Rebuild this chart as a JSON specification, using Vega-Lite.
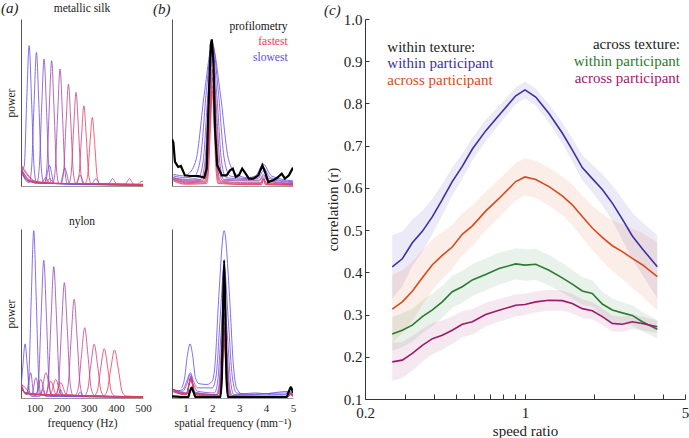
{
"$schema": "https://vega.github.io/schema/vega-lite/v6.json",
"background": "white",
"padding": {"left": 1, "top": 1, "right": 0, "bottom": 0},
"config": {
  "font": "Liberation Serif, DejaVu Serif, Times New Roman, serif",
  "view": {"stroke": null},
  "axis": {"grid": false, "labelFlush": false, "labelOverlap": false, "labelFont": "Liberation Serif, DejaVu Serif, Times New Roman, serif", "titleFont": "Liberation Serif, DejaVu Serif, Times New Roman, serif", "titleFontWeight": "normal", "labelColor": "#222", "titleColor": "#222"},
  "title": {"font": "Liberation Serif, DejaVu Serif, Times New Roman, serif", "fontWeight": "normal", "color": "#222"},
  "text": {"font": "Liberation Serif, DejaVu Serif, Times New Roman, serif"}
},
"datasets": {
"aT": [
{"s":1,"x":50,"y":0.09},{"s":1,"x":62,"y":0.12},{"s":1,"x":71,"y":0.51},{"s":1,"x":80,"y":0.84},{"s":1,"x":89,"y":0.51},{"s":1,"x":98,"y":0.12},{"s":1,"x":107,"y":0.02},{"s":1,"x":139,"y":0.015},{"s":1,"x":147,"y":0.075},{"s":1,"x":155,"y":0.124},{"s":1,"x":163,"y":0.075},{"s":1,"x":171,"y":0.015},{"s":1,"x":300,"y":0.008},{"s":1,"x":500,"y":0.005},
{"s":2,"x":50,"y":0.11},{"s":2,"x":65,"y":0.04},{"s":2,"x":80,"y":0.02},{"s":2,"x":89,"y":0.108},{"s":2,"x":98,"y":0.486},{"s":2,"x":107,"y":0.8},{"s":2,"x":116,"y":0.486},{"s":2,"x":125,"y":0.108},{"s":2,"x":134,"y":0.015},{"s":2,"x":196,"y":0.015},{"s":2,"x":204,"y":0.065},{"s":2,"x":212,"y":0.108},{"s":2,"x":220,"y":0.065},{"s":2,"x":228,"y":0.015},{"s":2,"x":500,"y":0.005},
{"s":3,"x":50,"y":0.08},{"s":3,"x":70,"y":0.04},{"s":3,"x":95,"y":0.02},{"s":3,"x":108,"y":0.015},{"s":3,"x":117,"y":0.103},{"s":3,"x":126,"y":0.461},{"s":3,"x":135,"y":0.76},{"s":3,"x":144,"y":0.461},{"s":3,"x":153,"y":0.103},{"s":3,"x":162,"y":0.015},{"s":3,"x":252,"y":0.01},{"s":3,"x":260,"y":0.04},{"s":3,"x":268,"y":0.065},{"s":3,"x":276,"y":0.04},{"s":3,"x":284,"y":0.01},{"s":3,"x":500,"y":0.005},
{"s":4,"x":50,"y":0.09},{"s":4,"x":75,"y":0.03},{"s":4,"x":136,"y":0.015},{"s":4,"x":145,"y":0.101},{"s":4,"x":154,"y":0.455},{"s":4,"x":163,"y":0.75},{"s":4,"x":172,"y":0.455},{"s":4,"x":181,"y":0.101},{"s":4,"x":190,"y":0.015},{"s":4,"x":310,"y":0.01},{"s":4,"x":318,"y":0.027},{"s":4,"x":326,"y":0.045},{"s":4,"x":334,"y":0.027},{"s":4,"x":342,"y":0.01},{"s":4,"x":500,"y":0.005},
{"s":5,"x":50,"y":0.1},{"s":5,"x":80,"y":0.03},{"s":5,"x":167,"y":0.015},{"s":5,"x":176,"y":0.095},{"s":5,"x":185,"y":0.425},{"s":5,"x":194,"y":0.7},{"s":5,"x":203,"y":0.425},{"s":5,"x":212,"y":0.095},{"s":5,"x":221,"y":0.015},{"s":5,"x":372,"y":0.01},{"s":5,"x":380,"y":0.027},{"s":5,"x":388,"y":0.045},{"s":5,"x":396,"y":0.027},{"s":5,"x":404,"y":0.01},{"s":5,"x":500,"y":0.005},
{"s":6,"x":50,"y":0.11},{"s":6,"x":85,"y":0.03},{"s":6,"x":198,"y":0.015},{"s":6,"x":207,"y":0.082},{"s":6,"x":216,"y":0.37},{"s":6,"x":225,"y":0.61},{"s":6,"x":234,"y":0.37},{"s":6,"x":243,"y":0.082},{"s":6,"x":252,"y":0.015},{"s":6,"x":434,"y":0.01},{"s":6,"x":442,"y":0.027},{"s":6,"x":450,"y":0.045},{"s":6,"x":458,"y":0.027},{"s":6,"x":466,"y":0.01},{"s":6,"x":500,"y":0.005},
{"s":7,"x":50,"y":0.1},{"s":7,"x":90,"y":0.03},{"s":7,"x":226,"y":0.015},{"s":7,"x":235,"y":0.076},{"s":7,"x":244,"y":0.34},{"s":7,"x":253,"y":0.56},{"s":7,"x":262,"y":0.34},{"s":7,"x":271,"y":0.076},{"s":7,"x":280,"y":0.015},{"s":7,"x":480,"y":0.01},{"s":7,"x":492,"y":0.025},{"s":7,"x":500,"y":0.03},
{"s":8,"x":50,"y":0.12},{"s":8,"x":95,"y":0.03},{"s":8,"x":125,"y":0.015},{"s":8,"x":141,"y":0.05},{"s":8,"x":157,"y":0.015},{"s":8,"x":255,"y":0.015},{"s":8,"x":264,"y":0.065},{"s":8,"x":273,"y":0.291},{"s":8,"x":282,"y":0.48},{"s":8,"x":291,"y":0.291},{"s":8,"x":300,"y":0.065},{"s":8,"x":309,"y":0.015},{"s":8,"x":500,"y":0.01},
{"s":9,"x":50,"y":0.13},{"s":9,"x":100,"y":0.03},{"s":9,"x":140,"y":0.015},{"s":9,"x":156,"y":0.045},{"s":9,"x":172,"y":0.015},{"s":9,"x":286,"y":0.015},{"s":9,"x":295,"y":0.055},{"s":9,"x":304,"y":0.249},{"s":9,"x":313,"y":0.41},{"s":9,"x":322,"y":0.249},{"s":9,"x":331,"y":0.055},{"s":9,"x":340,"y":0.015},{"s":9,"x":500,"y":0.01}
],
"aB": [
{"s":1,"x":50,"y":0.06},{"s":1,"x":57,"y":0.194},{"s":1,"x":65,"y":0.32},{"s":1,"x":73,"y":0.194},{"s":1,"x":81,"y":0.043},{"s":1,"x":89,"y":0.01},{"s":1,"x":120,"y":0.01},{"s":1,"x":130,"y":0.05},{"s":1,"x":140,"y":0.01},{"s":1,"x":500,"y":0.005},
{"s":2,"x":50,"y":0.07},{"s":2,"x":70,"y":0.02},{"s":2,"x":79,"y":0.134},{"s":2,"x":88,"y":0.601},{"s":2,"x":97,"y":0.99},{"s":2,"x":106,"y":0.601},{"s":2,"x":115,"y":0.134},{"s":2,"x":124,"y":0.02},{"s":2,"x":185,"y":0.01},{"s":2,"x":196,"y":0.05},{"s":2,"x":207,"y":0.01},{"s":2,"x":500,"y":0.005},
{"s":3,"x":50,"y":0.08},{"s":3,"x":67,"y":0.06},{"s":3,"x":85,"y":0.02},{"s":3,"x":105.5,"y":0.015},{"s":3,"x":115,"y":0.11},{"s":3,"x":124.5,"y":0.495},{"s":3,"x":134,"y":0.815},{"s":3,"x":143.5,"y":0.495},{"s":3,"x":153,"y":0.11},{"s":3,"x":162.5,"y":0.015},{"s":3,"x":258,"y":0.01},{"s":3,"x":268,"y":0.037},{"s":3,"x":278,"y":0.01},{"s":3,"x":500,"y":0.005},
{"s":4,"x":50,"y":0.07},{"s":4,"x":73,"y":0.02},{"s":4,"x":85.5,"y":0.15},{"s":4,"x":98,"y":0.02},{"s":4,"x":141,"y":0.015},{"s":4,"x":151,"y":0.105},{"s":4,"x":161,"y":0.472},{"s":4,"x":171,"y":0.777},{"s":4,"x":181,"y":0.472},{"s":4,"x":191,"y":0.105},{"s":4,"x":201,"y":0.015},{"s":4,"x":500,"y":0.005},
{"s":5,"x":50,"y":0.06},{"s":5,"x":65,"y":0.03},{"s":5,"x":90,"y":0.02},{"s":5,"x":105,"y":0.12},{"s":5,"x":120,"y":0.02},{"s":5,"x":178.5,"y":0.015},{"s":5,"x":189,"y":0.092},{"s":5,"x":199.5,"y":0.414},{"s":5,"x":210,"y":0.682},{"s":5,"x":220.5,"y":0.414},{"s":5,"x":231,"y":0.092},{"s":5,"x":241.5,"y":0.015},{"s":5,"x":500,"y":0.005},
{"s":6,"x":50,"y":0.07},{"s":6,"x":65,"y":0.03},{"s":6,"x":105,"y":0.02},{"s":6,"x":123,"y":0.11},{"s":6,"x":141,"y":0.02},{"s":6,"x":213,"y":0.015},{"s":6,"x":224,"y":0.079},{"s":6,"x":235,"y":0.354},{"s":6,"x":246,"y":0.584},{"s":6,"x":257,"y":0.354},{"s":6,"x":268,"y":0.079},{"s":6,"x":279,"y":0.015},{"s":6,"x":500,"y":0.005},
{"s":7,"x":50,"y":0.08},{"s":7,"x":65,"y":0.03},{"s":7,"x":122,"y":0.02},{"s":7,"x":142,"y":0.15},{"s":7,"x":162,"y":0.02},{"s":7,"x":249,"y":0.015},{"s":7,"x":261,"y":0.056},{"s":7,"x":273,"y":0.252},{"s":7,"x":285,"y":0.416},{"s":7,"x":297,"y":0.252},{"s":7,"x":309,"y":0.056},{"s":7,"x":321,"y":0.015},{"s":7,"x":500,"y":0.005},
{"s":8,"x":50,"y":0.09},{"s":8,"x":65,"y":0.03},{"s":8,"x":140,"y":0.02},{"s":8,"x":160,"y":0.1},{"s":8,"x":180,"y":0.02},{"s":8,"x":282.5,"y":0.012},{"s":8,"x":295,"y":0.043},{"s":8,"x":307.5,"y":0.193},{"s":8,"x":320,"y":0.318},{"s":8,"x":332.5,"y":0.193},{"s":8,"x":345,"y":0.043},{"s":8,"x":357.5,"y":0.012},{"s":8,"x":500,"y":0.005},
{"s":9,"x":50,"y":0.08},{"s":9,"x":65,"y":0.03},{"s":9,"x":158,"y":0.02},{"s":9,"x":178,"y":0.11},{"s":9,"x":198,"y":0.02},{"s":9,"x":318,"y":0.012},{"s":9,"x":331,"y":0.039},{"s":9,"x":344,"y":0.177},{"s":9,"x":357,"y":0.292},{"s":9,"x":370,"y":0.177},{"s":9,"x":383,"y":0.039},{"s":9,"x":396,"y":0.012},{"s":9,"x":500,"y":0.005},
{"s":10,"x":50,"y":0.1},{"s":10,"x":65,"y":0.03},{"s":10,"x":177,"y":0.02},{"s":10,"x":197,"y":0.09},{"s":10,"x":217,"y":0.02},{"s":10,"x":353,"y":0.012},{"s":10,"x":367,"y":0.038},{"s":10,"x":381,"y":0.172},{"s":10,"x":395,"y":0.284},{"s":10,"x":409,"y":0.172},{"s":10,"x":423,"y":0.038},{"s":10,"x":437,"y":0.012},{"s":10,"x":500,"y":0.008}
],
"bT": [
{"s":1,"x":0.55,"y":0.07},{"s":1,"x":1.0,"y":0.06},{"s":1,"x":1.1,"y":0.07},{"s":1,"x":1.4,"y":0.16},{"s":1,"x":1.7,"y":0.55},{"s":1,"x":2.0,"y":0.84},{"s":1,"x":2.3,"y":0.55},{"s":1,"x":2.6,"y":0.16},{"s":1,"x":2.9,"y":0.07},{"s":1,"x":3.3,"y":0.05},{"s":1,"x":3.6,"y":0.06},{"s":1,"x":3.9,"y":0.13},{"s":1,"x":4.2,"y":0.06},{"s":1,"x":5,"y":0.03},
{"s":2,"x":0.55,"y":0.06},{"s":2,"x":1.0,"y":0.05},{"s":2,"x":1.34,"y":0.06},{"s":2,"x":1.56,"y":0.166},{"s":2,"x":1.78,"y":0.57},{"s":2,"x":2.0,"y":0.86},{"s":2,"x":2.22,"y":0.57},{"s":2,"x":2.44,"y":0.166},{"s":2,"x":2.66,"y":0.06},{"s":2,"x":3.3,"y":0.045},{"s":2,"x":3.65,"y":0.05},{"s":2,"x":3.9,"y":0.11},{"s":2,"x":4.15,"y":0.05},{"s":2,"x":5,"y":0.025},
{"s":3,"x":0.55,"y":0.05},{"s":3,"x":1.0,"y":0.04},{"s":3,"x":1.49,"y":0.05},{"s":3,"x":1.66,"y":0.15},{"s":3,"x":1.83,"y":0.54},{"s":3,"x":2.0,"y":0.84},{"s":3,"x":2.17,"y":0.54},{"s":3,"x":2.34,"y":0.15},{"s":3,"x":2.51,"y":0.05},{"s":3,"x":3.3,"y":0.04},{"s":3,"x":3.7,"y":0.045},{"s":3,"x":3.9,"y":0.09},{"s":3,"x":4.1,"y":0.045},{"s":3,"x":5,"y":0.02},
{"s":4,"x":0.55,"y":0.05},{"s":4,"x":1.0,"y":0.035},{"s":4,"x":1.58,"y":0.04},{"s":4,"x":1.72,"y":0.14},{"s":4,"x":1.86,"y":0.5},{"s":4,"x":2.0,"y":0.8},{"s":4,"x":2.14,"y":0.5},{"s":4,"x":2.28,"y":0.14},{"s":4,"x":2.42,"y":0.04},{"s":4,"x":3.3,"y":0.035},{"s":4,"x":3.75,"y":0.035},{"s":4,"x":3.9,"y":0.07},{"s":4,"x":4.05,"y":0.035},{"s":4,"x":5,"y":0.015},
{"s":5,"x":0.55,"y":0.045},{"s":5,"x":1.0,"y":0.03},{"s":5,"x":1.64,"y":0.035},{"s":5,"x":1.76,"y":0.13},{"s":5,"x":1.88,"y":0.47},{"s":5,"x":2.0,"y":0.76},{"s":5,"x":2.12,"y":0.47},{"s":5,"x":2.24,"y":0.13},{"s":5,"x":2.36,"y":0.035},{"s":5,"x":3.3,"y":0.03},{"s":5,"x":3.75,"y":0.03},{"s":5,"x":3.9,"y":0.06},{"s":5,"x":4.05,"y":0.03},{"s":5,"x":5,"y":0.012},
{"s":6,"x":0.55,"y":0.04},{"s":6,"x":1.0,"y":0.025},{"s":6,"x":1.7,"y":0.03},{"s":6,"x":1.8,"y":0.12},{"s":6,"x":1.9,"y":0.43},{"s":6,"x":2.0,"y":0.7},{"s":6,"x":2.1,"y":0.43},{"s":6,"x":2.2,"y":0.12},{"s":6,"x":2.3,"y":0.03},{"s":6,"x":3.3,"y":0.02},{"s":6,"x":3.8,"y":0.02},{"s":6,"x":3.9,"y":0.05},{"s":6,"x":4.0,"y":0.02},{"s":6,"x":5,"y":0.01},
{"s":7,"x":0.55,"y":0.04},{"s":7,"x":1.0,"y":0.02},{"s":7,"x":1.73,"y":0.025},{"s":7,"x":1.82,"y":0.11},{"s":7,"x":1.91,"y":0.4},{"s":7,"x":2.0,"y":0.65},{"s":7,"x":2.09,"y":0.4},{"s":7,"x":2.18,"y":0.11},{"s":7,"x":2.27,"y":0.025},{"s":7,"x":3.3,"y":0.015},{"s":7,"x":3.8,"y":0.015},{"s":7,"x":3.9,"y":0.045},{"s":7,"x":4.0,"y":0.015},{"s":7,"x":5,"y":0.008},
{"s":8,"x":0.55,"y":0.035},{"s":8,"x":1.0,"y":0.015},{"s":8,"x":1.76,"y":0.02},{"s":8,"x":1.84,"y":0.1},{"s":8,"x":1.92,"y":0.37},{"s":8,"x":2.0,"y":0.6},{"s":8,"x":2.08,"y":0.37},{"s":8,"x":2.16,"y":0.1},{"s":8,"x":2.24,"y":0.02},{"s":8,"x":3.3,"y":0.01},{"s":8,"x":3.82,"y":0.01},{"s":8,"x":3.9,"y":0.04},{"s":8,"x":3.98,"y":0.01},{"s":8,"x":5,"y":0.005},
{"s":9,"x":0.55,"y":0.03},{"s":9,"x":1.0,"y":0.01},{"s":9,"x":1.79,"y":0.015},{"s":9,"x":1.86,"y":0.09},{"s":9,"x":1.93,"y":0.35},{"s":9,"x":2.0,"y":0.57},{"s":9,"x":2.07,"y":0.35},{"s":9,"x":2.14,"y":0.09},{"s":9,"x":2.21,"y":0.015},{"s":9,"x":3.3,"y":0.008},{"s":9,"x":3.83,"y":0.008},{"s":9,"x":3.9,"y":0.04},{"s":9,"x":3.97,"y":0.008},{"s":9,"x":5,"y":0.005}
],
"bTk": [
{"x":0.5,"y":0.28},{"x":0.55,"y":0.26},{"x":0.61,"y":0.144},{"x":0.73,"y":0.114},{"x":0.83,"y":0.12},{"x":0.98,"y":0.064},{"x":1.17,"y":0.06},{"x":1.48,"y":0.06},{"x":1.7,"y":0.05},{"x":1.79,"y":0.104},{"x":1.85,"y":0.443},{"x":1.94,"y":0.843},{"x":1.98,"y":0.878},{"x":2.04,"y":0.743},{"x":2.1,"y":0.343},{"x":2.18,"y":0.124},{"x":2.35,"y":0.064},{"x":2.53,"y":0.064},{"x":2.66,"y":0.094},{"x":2.76,"y":0.104},{"x":2.87,"y":0.054},{"x":2.99,"y":0.064},{"x":3.11,"y":0.104},{"x":3.24,"y":0.074},{"x":3.36,"y":0.044},{"x":3.52,"y":0.044},{"x":3.71,"y":0.064},{"x":3.86,"y":0.124},{"x":3.96,"y":0.084},{"x":4.08,"y":0.024},{"x":4.27,"y":0.034},{"x":4.45,"y":0.054},{"x":4.58,"y":0.074},{"x":4.7,"y":0.044},{"x":4.85,"y":0.064},{"x":5.0,"y":0.11}
],
"bTt": [
{"t":"profilometry","x":4.8,"y":0.932,"s":0},
{"t":"fastest","x":4.8,"y":0.843,"s":9},
{"t":"slowest","x":4.8,"y":0.749,"s":1}
],
"bB": [
{"s":1,"x":0.86,"y":0.06},{"s":1,"x":0.97,"y":0.12},{"s":1,"x":1.07,"y":0.25},{"s":1,"x":1.17,"y":0.32},{"s":1,"x":1.27,"y":0.25},{"s":1,"x":1.37,"y":0.12},{"s":1,"x":1.5,"y":0.085},{"s":1,"x":1.8,"y":0.08},{"s":1,"x":2.0,"y":0.1},{"s":1,"x":2.1,"y":0.2},{"s":1,"x":2.24,"y":0.6},{"s":1,"x":2.44,"y":0.99},{"s":1,"x":2.64,"y":0.6},{"s":1,"x":2.78,"y":0.2},{"s":1,"x":2.9,"y":0.06},{"s":1,"x":3.1,"y":0.025},{"s":1,"x":3.6,"y":0.03},{"s":1,"x":4.2,"y":0.02},{"s":1,"x":4.7,"y":0.02},{"s":1,"x":4.9,"y":0.05},{"s":1,"x":5.0,"y":0.03},
{"s":2,"x":0.6,"y":0.04},{"s":2,"x":0.9,"y":0.05},{"s":2,"x":1.05,"y":0.1},{"s":2,"x":1.18,"y":0.15},{"s":2,"x":1.3,"y":0.1},{"s":2,"x":1.45,"y":0.06},{"s":2,"x":2.0,"y":0.06},{"s":2,"x":2.14,"y":0.13},{"s":2,"x":2.29,"y":0.47},{"s":2,"x":2.44,"y":0.78},{"s":2,"x":2.59,"y":0.47},{"s":2,"x":2.74,"y":0.13},{"s":2,"x":2.9,"y":0.03},{"s":2,"x":3.6,"y":0.02},{"s":2,"x":4.9,"y":0.04},{"s":2,"x":5,"y":0.02},
{"s":3,"x":0.55,"y":0.05},{"s":3,"x":0.9,"y":0.04},{"s":3,"x":1.05,"y":0.08},{"s":3,"x":1.18,"y":0.14},{"s":3,"x":1.3,"y":0.08},{"s":3,"x":1.45,"y":0.04},{"s":3,"x":2.08,"y":0.03},{"s":3,"x":2.2,"y":0.1},{"s":3,"x":2.32,"y":0.37},{"s":3,"x":2.44,"y":0.6},{"s":3,"x":2.56,"y":0.37},{"s":3,"x":2.68,"y":0.1},{"s":3,"x":2.8,"y":0.02},{"s":3,"x":4.9,"y":0.03},{"s":3,"x":5,"y":0.02},
{"s":4,"x":0.55,"y":0.05},{"s":4,"x":1.0,"y":0.03},{"s":4,"x":1.06,"y":0.035},{"s":4,"x":1.13,"y":0.085},{"s":4,"x":1.2,"y":0.13},{"s":4,"x":1.27,"y":0.085},{"s":4,"x":1.34,"y":0.035},{"s":4,"x":2.14,"y":0.02},{"s":4,"x":2.24,"y":0.068},{"s":4,"x":2.34,"y":0.3},{"s":4,"x":2.44,"y":0.5},{"s":4,"x":2.54,"y":0.3},{"s":4,"x":2.64,"y":0.068},{"s":4,"x":2.74,"y":0.015},{"s":4,"x":4.8,"y":0.01},{"s":4,"x":4.9,"y":0.03},{"s":4,"x":5,"y":0.015},
{"s":5,"x":0.55,"y":0.05},{"s":5,"x":1.0,"y":0.03},{"s":5,"x":1.06,"y":0.03},{"s":5,"x":1.13,"y":0.08},{"s":5,"x":1.2,"y":0.12},{"s":5,"x":1.27,"y":0.08},{"s":5,"x":1.34,"y":0.03},{"s":5,"x":2.17,"y":0.02},{"s":5,"x":2.26,"y":0.061},{"s":5,"x":2.35,"y":0.273},{"s":5,"x":2.44,"y":0.45},{"s":5,"x":2.53,"y":0.273},{"s":5,"x":2.62,"y":0.061},{"s":5,"x":2.71,"y":0.012},{"s":5,"x":4.8,"y":0.01},{"s":5,"x":4.9,"y":0.03},{"s":5,"x":5,"y":0.015},
{"s":6,"x":0.55,"y":0.045},{"s":6,"x":1.0,"y":0.025},{"s":6,"x":1.06,"y":0.03},{"s":6,"x":1.13,"y":0.08},{"s":6,"x":1.2,"y":0.12},{"s":6,"x":1.27,"y":0.08},{"s":6,"x":1.34,"y":0.025},{"s":6,"x":2.2,"y":0.02},{"s":6,"x":2.28,"y":0.057},{"s":6,"x":2.36,"y":0.255},{"s":6,"x":2.44,"y":0.42},{"s":6,"x":2.52,"y":0.255},{"s":6,"x":2.6,"y":0.057},{"s":6,"x":2.68,"y":0.01},{"s":6,"x":4.8,"y":0.008},{"s":6,"x":4.9,"y":0.025},{"s":6,"x":5,"y":0.012},
{"s":7,"x":0.55,"y":0.045},{"s":7,"x":1.0,"y":0.025},{"s":7,"x":1.06,"y":0.025},{"s":7,"x":1.13,"y":0.075},{"s":7,"x":1.2,"y":0.11},{"s":7,"x":1.27,"y":0.075},{"s":7,"x":1.34,"y":0.025},{"s":7,"x":2.23,"y":0.015},{"s":7,"x":2.3,"y":0.054},{"s":7,"x":2.37,"y":0.243},{"s":7,"x":2.44,"y":0.4},{"s":7,"x":2.51,"y":0.243},{"s":7,"x":2.58,"y":0.054},{"s":7,"x":2.65,"y":0.008},{"s":7,"x":4.8,"y":0.008},{"s":7,"x":4.9,"y":0.025},{"s":7,"x":5,"y":0.012},
{"s":8,"x":0.55,"y":0.04},{"s":8,"x":1.0,"y":0.02},{"s":8,"x":1.06,"y":0.025},{"s":8,"x":1.13,"y":0.075},{"s":8,"x":1.2,"y":0.11},{"s":8,"x":1.27,"y":0.075},{"s":8,"x":1.34,"y":0.02},{"s":8,"x":2.245,"y":0.012},{"s":8,"x":2.31,"y":0.051},{"s":8,"x":2.375,"y":0.231},{"s":8,"x":2.44,"y":0.38},{"s":8,"x":2.505,"y":0.231},{"s":8,"x":2.57,"y":0.051},{"s":8,"x":2.635,"y":0.006},{"s":8,"x":4.8,"y":0.006},{"s":8,"x":4.9,"y":0.02},{"s":8,"x":5,"y":0.01},
{"s":9,"x":0.55,"y":0.04},{"s":9,"x":1.0,"y":0.02},{"s":9,"x":1.06,"y":0.025},{"s":9,"x":1.13,"y":0.078},{"s":9,"x":1.2,"y":0.115},{"s":9,"x":1.27,"y":0.078},{"s":9,"x":1.34,"y":0.02},{"s":9,"x":2.26,"y":0.01},{"s":9,"x":2.32,"y":0.047},{"s":9,"x":2.38,"y":0.212},{"s":9,"x":2.44,"y":0.35},{"s":9,"x":2.5,"y":0.212},{"s":9,"x":2.56,"y":0.047},{"s":9,"x":2.62,"y":0.005},{"s":9,"x":4.8,"y":0.005},{"s":9,"x":4.9,"y":0.02},{"s":9,"x":5,"y":0.01},
{"s":10,"x":0.55,"y":0.035},{"s":10,"x":1.0,"y":0.02},{"s":10,"x":1.06,"y":0.025},{"s":10,"x":1.13,"y":0.075},{"s":10,"x":1.2,"y":0.11},{"s":10,"x":1.27,"y":0.075},{"s":10,"x":1.34,"y":0.02},{"s":10,"x":2.275,"y":0.01},{"s":10,"x":2.33,"y":0.043},{"s":10,"x":2.385,"y":0.194},{"s":10,"x":2.44,"y":0.32},{"s":10,"x":2.495,"y":0.194},{"s":10,"x":2.55,"y":0.043},{"s":10,"x":2.605,"y":0.005},{"s":10,"x":4.8,"y":0.005},{"s":10,"x":4.9,"y":0.02},{"s":10,"x":5,"y":0.01}
],
"bBk": [
{"x":0.5,"y":0.01},{"x":1.1,"y":0.005},{"x":1.15,"y":0.03},{"x":1.23,"y":0.061},{"x":1.31,"y":0.03},{"x":1.38,"y":0.005},{"x":2.3,"y":0.005},{"x":2.36,"y":0.15},{"x":2.4,"y":0.55},{"x":2.44,"y":0.815},{"x":2.48,"y":0.55},{"x":2.52,"y":0.15},{"x":2.58,"y":0.005},{"x":4.75,"y":0.005},{"x":4.85,"y":0.04},{"x":4.92,"y":0.065},{"x":5.0,"y":0.03}
],
"c": [
{"g":"a","x":0.263,"y":0.413,"lo":0.338,"hi":0.488},{"g":"a","x":0.291,"y":0.432,"lo":0.367,"hi":0.497},{"g":"a","x":0.322,"y":0.47,"lo":0.415,"hi":0.525},{"g":"a","x":0.356,"y":0.497,"lo":0.449,"hi":0.545},{"g":"a","x":0.394,"y":0.532,"lo":0.49,"hi":0.574},{"g":"a","x":0.435,"y":0.572,"lo":0.535,"hi":0.609},{"g":"a","x":0.481,"y":0.615,"lo":0.582,"hi":0.648},{"g":"a","x":0.532,"y":0.651,"lo":0.621,"hi":0.681},{"g":"a","x":0.589,"y":0.692,"lo":0.665,"hi":0.719},{"g":"a","x":0.673,"y":0.735,"lo":0.71,"hi":0.76},{"g":"a","x":0.77,"y":0.772,"lo":0.75,"hi":0.794},{"g":"a","x":0.911,"y":0.818,"lo":0.798,"hi":0.838},{"g":"a","x":1.0,"y":0.832,"lo":0.812,"hi":0.852},{"g":"a","x":1.114,"y":0.815,"lo":0.795,"hi":0.835},{"g":"a","x":1.273,"y":0.776,"lo":0.754,"hi":0.798},{"g":"a","x":1.455,"y":0.73,"lo":0.705,"hi":0.755},{"g":"a","x":1.609,"y":0.69,"lo":0.663,"hi":0.717},{"g":"a","x":1.779,"y":0.648,"lo":0.618,"hi":0.678},{"g":"a","x":1.968,"y":0.622,"lo":0.589,"hi":0.655},{"g":"a","x":2.176,"y":0.596,"lo":0.559,"hi":0.633},{"g":"a","x":2.407,"y":0.564,"lo":0.522,"hi":0.606},{"g":"a","x":2.661,"y":0.526,"lo":0.478,"hi":0.574},{"g":"a","x":2.943,"y":0.486,"lo":0.431,"hi":0.541},{"g":"a","x":3.254,"y":0.456,"lo":0.394,"hi":0.518},{"g":"a","x":3.784,"y":0.413,"lo":0.338,"hi":0.488},
{"g":"b","x":0.263,"y":0.313,"lo":0.233,"hi":0.393},{"g":"b","x":0.291,"y":0.33,"lo":0.255,"hi":0.405},{"g":"b","x":0.322,"y":0.355,"lo":0.285,"hi":0.425},{"g":"b","x":0.356,"y":0.387,"lo":0.322,"hi":0.452},{"g":"b","x":0.394,"y":0.418,"lo":0.358,"hi":0.478},{"g":"b","x":0.435,"y":0.44,"lo":0.384,"hi":0.496},{"g":"b","x":0.481,"y":0.46,"lo":0.408,"hi":0.512},{"g":"b","x":0.532,"y":0.49,"lo":0.44,"hi":0.54},{"g":"b","x":0.589,"y":0.51,"lo":0.462,"hi":0.558},{"g":"b","x":0.673,"y":0.545,"lo":0.499,"hi":0.591},{"g":"b","x":0.77,"y":0.575,"lo":0.53,"hi":0.62},{"g":"b","x":0.911,"y":0.615,"lo":0.571,"hi":0.659},{"g":"b","x":1.0,"y":0.626,"lo":0.582,"hi":0.67},{"g":"b","x":1.114,"y":0.62,"lo":0.576,"hi":0.664},{"g":"b","x":1.273,"y":0.603,"lo":0.558,"hi":0.648},{"g":"b","x":1.455,"y":0.581,"lo":0.535,"hi":0.627},{"g":"b","x":1.609,"y":0.56,"lo":0.512,"hi":0.608},{"g":"b","x":1.779,"y":0.532,"lo":0.482,"hi":0.582},{"g":"b","x":1.968,"y":0.505,"lo":0.453,"hi":0.557},{"g":"b","x":2.176,"y":0.483,"lo":0.427,"hi":0.539},{"g":"b","x":2.407,"y":0.463,"lo":0.403,"hi":0.523},{"g":"b","x":2.661,"y":0.449,"lo":0.384,"hi":0.514},{"g":"b","x":2.943,"y":0.433,"lo":0.363,"hi":0.503},{"g":"b","x":3.254,"y":0.418,"lo":0.343,"hi":0.493},{"g":"b","x":3.784,"y":0.39,"lo":0.31,"hi":0.47},
{"g":"c","x":0.263,"y":0.254,"lo":0.214,"hi":0.294},{"g":"c","x":0.291,"y":0.263,"lo":0.223,"hi":0.303},{"g":"c","x":0.322,"y":0.275,"lo":0.236,"hi":0.314},{"g":"c","x":0.356,"y":0.295,"lo":0.256,"hi":0.334},{"g":"c","x":0.394,"y":0.311,"lo":0.273,"hi":0.349},{"g":"c","x":0.435,"y":0.33,"lo":0.292,"hi":0.368},{"g":"c","x":0.481,"y":0.354,"lo":0.316,"hi":0.392},{"g":"c","x":0.532,"y":0.366,"lo":0.328,"hi":0.404},{"g":"c","x":0.589,"y":0.382,"lo":0.344,"hi":0.42},{"g":"c","x":0.673,"y":0.395,"lo":0.357,"hi":0.433},{"g":"c","x":0.77,"y":0.409,"lo":0.371,"hi":0.447},{"g":"c","x":0.911,"y":0.42,"lo":0.383,"hi":0.457},{"g":"c","x":1.0,"y":0.417,"lo":0.38,"hi":0.454},{"g":"c","x":1.114,"y":0.419,"lo":0.382,"hi":0.456},{"g":"c","x":1.273,"y":0.405,"lo":0.369,"hi":0.441},{"g":"c","x":1.455,"y":0.387,"lo":0.352,"hi":0.422},{"g":"c","x":1.609,"y":0.372,"lo":0.338,"hi":0.406},{"g":"c","x":1.779,"y":0.356,"lo":0.323,"hi":0.389},{"g":"c","x":1.968,"y":0.35,"lo":0.319,"hi":0.381},{"g":"c","x":2.176,"y":0.325,"lo":0.296,"hi":0.354},{"g":"c","x":2.407,"y":0.311,"lo":0.284,"hi":0.338},{"g":"c","x":2.661,"y":0.304,"lo":0.279,"hi":0.329},{"g":"c","x":2.943,"y":0.298,"lo":0.274,"hi":0.322},{"g":"c","x":3.254,"y":0.283,"lo":0.26,"hi":0.306},{"g":"c","x":3.784,"y":0.265,"lo":0.243,"hi":0.287},
{"g":"d","x":0.263,"y":0.188,"lo":0.143,"hi":0.233},{"g":"d","x":0.291,"y":0.192,"lo":0.149,"hi":0.235},{"g":"d","x":0.322,"y":0.208,"lo":0.167,"hi":0.249},{"g":"d","x":0.356,"y":0.227,"lo":0.188,"hi":0.266},{"g":"d","x":0.394,"y":0.243,"lo":0.206,"hi":0.28},{"g":"d","x":0.435,"y":0.251,"lo":0.216,"hi":0.286},{"g":"d","x":0.481,"y":0.263,"lo":0.23,"hi":0.296},{"g":"d","x":0.532,"y":0.277,"lo":0.246,"hi":0.308},{"g":"d","x":0.589,"y":0.283,"lo":0.253,"hi":0.313},{"g":"d","x":0.673,"y":0.3,"lo":0.272,"hi":0.328},{"g":"d","x":0.77,"y":0.31,"lo":0.283,"hi":0.337},{"g":"d","x":0.911,"y":0.322,"lo":0.296,"hi":0.348},{"g":"d","x":1.0,"y":0.324,"lo":0.299,"hi":0.349},{"g":"d","x":1.114,"y":0.33,"lo":0.305,"hi":0.355},{"g":"d","x":1.273,"y":0.334,"lo":0.309,"hi":0.359},{"g":"d","x":1.455,"y":0.333,"lo":0.309,"hi":0.357},{"g":"d","x":1.609,"y":0.326,"lo":0.303,"hi":0.349},{"g":"d","x":1.779,"y":0.314,"lo":0.292,"hi":0.336},{"g":"d","x":1.968,"y":0.309,"lo":0.288,"hi":0.33},{"g":"d","x":2.176,"y":0.295,"lo":0.275,"hi":0.315},{"g":"d","x":2.407,"y":0.279,"lo":0.26,"hi":0.298},{"g":"d","x":2.661,"y":0.277,"lo":0.259,"hi":0.295},{"g":"d","x":2.943,"y":0.283,"lo":0.266,"hi":0.3},{"g":"d","x":3.254,"y":0.279,"lo":0.263,"hi":0.295},{"g":"d","x":3.784,"y":0.271,"lo":0.256,"hi":0.286}
],
"ct": [
{"t":"within texture:","x":0.2503,"y":0.922,"g":"h","side":"L"},
{"t":"within participant","x":0.2503,"y":0.884,"g":"a","side":"L"},
{"t":"across participant","x":0.2503,"y":0.843,"g":"b","side":"L"},
{"t":"across texture:","x":4.755,"y":0.928,"g":"h","side":"R"},
{"t":"within participant","x":4.755,"y":0.888,"g":"c","side":"R"},
{"t":"across participant","x":4.755,"y":0.849,"g":"d","side":"R"}
]
},
"spacing": 28,
"resolve": {"scale": {"color": "independent"}},
"hconcat": [
{
  "vconcat": [
    {
      "hconcat": [
        {
          "width": 122, "height": 167,
          "title": {"text": "metallic silk", "fontSize": 11.5, "baseline": "bottom", "offset": -6, "anchor": "middle"},
          "data": {"name": "aT"},
          "mark": {"type": "line", "interpolate": "monotone", "strokeWidth": 1, "opacity": 0.8, "clip": true},
          "encoding": {
            "x": {"field": "x", "type": "quantitative", "scale": {"domain": [50, 500], "nice": false, "zero": false}, "axis": {"labels": false, "ticks": false, "title": null, "domainColor": "#999"}},
            "y": {"field": "y", "type": "quantitative", "scale": {"domain": [0, 1], "nice": false}, "axis": {"labels": false, "ticks": false, "title": "power", "titleFontSize": 11.5, "titlePadding": 5, "domainColor": "#555"}},
            "color": {"field": "s", "type": "quantitative", "scale": {"domain": [1, 9], "range": ["#5b4cf2", "#f23a55"], "interpolate": "rgb"}, "legend": null},
            "detail": {"field": "s", "type": "nominal"}
          }
        },
        {
          "width": 121, "height": 167,
          "title": {"text": "(b)", "anchor": "start", "frame": "group", "dx": -19, "fontSize": 15, "fontStyle": "italic", "baseline": "bottom", "offset": -13},
          "layer": [
            {
              "data": {"name": "bT"},
              "mark": {"type": "line", "interpolate": "monotone", "strokeWidth": 1, "opacity": 0.8, "clip": true},
              "encoding": {
                "x": {"field": "x", "type": "quantitative", "scale": {"domain": [0.5, 5], "nice": false, "zero": false}, "axis": {"labels": false, "ticks": false, "title": null, "domainColor": "#999"}},
                "y": {"field": "y", "type": "quantitative", "scale": {"domain": [0, 1], "nice": false}, "axis": {"labels": false, "ticks": false, "title": null, "domainColor": "#555"}},
                "color": {"field": "s", "type": "quantitative", "scale": {"domain": [1, 9], "range": ["#5b4cf2", "#f23a55"], "interpolate": "rgb"}, "legend": null},
                "detail": {"field": "s", "type": "nominal"}
              }
            },
            {
              "data": {"name": "bTk"},
              "mark": {"type": "line", "strokeWidth": 2.2, "color": "#000", "clip": true},
              "encoding": {
                "x": {"field": "x", "type": "quantitative", "axis": {"labels": false, "ticks": false, "title": null, "domainColor": "#999"}},
                "y": {"field": "y", "type": "quantitative", "axis": {"labels": false, "ticks": false, "title": null, "domainColor": "#555"}}
              }
            },
            {
              "data": {"name": "bTt"},
              "mark": {"type": "text", "align": "right", "baseline": "alphabetic", "fontSize": 11.5},
              "encoding": {
                "x": {"field": "x", "type": "quantitative", "axis": {"labels": false, "ticks": false, "title": null, "domainColor": "#999"}},
                "y": {"field": "y", "type": "quantitative", "axis": {"labels": false, "ticks": false, "title": null, "domainColor": "#555"}},
                "text": {"field": "t"},
                "color": {"condition": {"test": "datum.s === 0", "value": "#111"}, "field": "s", "type": "quantitative", "scale": {"domain": [1, 9], "range": ["#5b4cf2", "#f23a55"], "interpolate": "rgb"}, "legend": null}
              }
            }
          ]
        }
      ],
      "spacing": 29,
      "bounds": "flush",
      "title": {"text": "(a)", "anchor": "start", "frame": "group", "dx": -20, "fontSize": 15, "fontStyle": "italic", "baseline": "bottom", "offset": -29},
      "resolve": {"scale": {"color": "independent"}}
    },
    {
      "hconcat": [
        {
          "width": 122, "height": 169,
          "title": {"text": "nylon", "fontSize": 11.5, "baseline": "bottom", "offset": -9, "anchor": "middle"},
          "data": {"name": "aB"},
          "mark": {"type": "line", "interpolate": "monotone", "strokeWidth": 1, "opacity": 0.8, "clip": true},
          "encoding": {
            "x": {"field": "x", "type": "quantitative", "scale": {"domain": [50, 500], "nice": false, "zero": false}, "axis": {"values": [100, 200, 300, 400, 500], "ticks": false, "labelOverlap": false, "labelBound": false, "labelFontSize": 11, "labelPadding": 4, "title": "frequency (Hz)", "titleFontSize": 11.5, "titlePadding": 4, "domainColor": "#999"}},
            "y": {"field": "y", "type": "quantitative", "scale": {"domain": [0, 1], "nice": false}, "axis": {"labels": false, "ticks": false, "title": "power", "titleFontSize": 11.5, "titlePadding": 5, "domainColor": "#555"}},
            "color": {"field": "s", "type": "quantitative", "scale": {"domain": [1, 10], "range": ["#5b4cf2", "#f23a55"], "interpolate": "rgb"}, "legend": null},
            "detail": {"field": "s", "type": "nominal"}
          }
        },
        {
          "width": 121, "height": 169,
          "layer": [
            {
              "data": {"name": "bB"},
              "mark": {"type": "line", "interpolate": "monotone", "strokeWidth": 1, "opacity": 0.8, "clip": true},
              "encoding": {
                "x": {"field": "x", "type": "quantitative", "scale": {"domain": [0.5, 5], "nice": false, "zero": false}, "axis": {"values": [1, 2, 3, 4, 5], "format": "d", "ticks": false, "labelOverlap": false, "labelBound": false, "labelSeparation": 0, "labelFontSize": 11, "labelPadding": 4, "title": "spatial frequency (mm⁻¹)", "titleFontSize": 11.5, "titlePadding": 4, "domainColor": "#999"}},
                "y": {"field": "y", "type": "quantitative", "scale": {"domain": [0, 1], "nice": false}, "axis": {"labels": false, "ticks": false, "title": null, "domainColor": "#555"}},
                "color": {"field": "s", "type": "quantitative", "scale": {"domain": [1, 10], "range": ["#5b4cf2", "#f23a55"], "interpolate": "rgb"}, "legend": null},
                "detail": {"field": "s", "type": "nominal"}
              }
            },
            {
              "data": {"name": "bBk"},
              "mark": {"type": "line", "interpolate": "monotone", "strokeWidth": 2.2, "color": "#000", "clip": true},
              "encoding": {
                "x": {"field": "x", "type": "quantitative", "axis": {"values": [1, 2, 3, 4, 5], "format": "d", "ticks": false, "labelOverlap": false, "labelBound": false, "labelSeparation": 0, "labelFontSize": 11, "labelPadding": 4, "title": "spatial frequency (mm⁻¹)", "titleFontSize": 11.5, "titlePadding": 4, "domainColor": "#999"}},
                "y": {"field": "y", "type": "quantitative", "axis": {"labels": false, "ticks": false, "title": null, "domainColor": "#555"}}
              }
            }
          ]
        }
      ],
      "spacing": 29,
      "bounds": "flush",
      "resolve": {"scale": {"color": "independent"}}
    }
  ],
  "spacing": 29,
  "resolve": {"scale": {"color": "independent"}}
},
{
  "width": 320, "height": 380,
  "title": {"text": "(c)", "anchor": "start", "frame": "group", "dx": -41, "fontSize": 15, "fontStyle": "italic", "baseline": "bottom", "offset": -21},
  "layer": [
    {
      "data": {"name": "c"},
      "mark": {"type": "area", "opacity": 0.1},
      "encoding": {
        "x": {"field": "x", "type": "quantitative", "scale": {"type": "log", "domain": [0.2, 5], "nice": false}, "axis": {"values": [0.2, 0.3, 0.4, 0.5, 0.6, 0.7, 0.8, 0.9, 1, 2, 3, 4, 5], "format": "~g", "labelExpr": "datum.value == 0.2 || datum.value == 1 || datum.value == 5 ? datum.label : ''", "labelOverlap": false, "labelBound": false, "tickSize": -5, "labelPadding": 11, "labelFontSize": 15, "title": "speed ratio", "titleFontSize": 15, "titlePadding": 3, "domainColor": "#333", "tickColor": "#333"}},
        "y": {"field": "lo", "type": "quantitative", "scale": {"domain": [0.1, 1.0], "nice": false, "zero": false}, "axis": {"values": [0.1, 0.2, 0.3, 0.4, 0.5, 0.6, 0.7, 0.8, 0.9, 1.0], "format": ".1f", "tickSize": -4, "labelPadding": 7, "labelFontSize": 15, "title": "correlation (r)", "titleFontSize": 15, "titlePadding": 3, "domainColor": "#333", "tickColor": "#333"}},
        "y2": {"field": "hi"},
        "color": {"field": "g", "type": "nominal", "scale": {"domain": ["a", "b", "c", "d", "h"], "range": ["#3b2fa8", "#d84a1b", "#2b7b2e", "#9c1a6b", "#222222"]}, "legend": null}
      }
    },
    {
      "data": {"name": "c"},
      "mark": {"type": "line", "strokeWidth": 1.6},
      "encoding": {
        "x": {"field": "x", "type": "quantitative"},
        "y": {"field": "y", "type": "quantitative"},
        "color": {"field": "g", "type": "nominal", "legend": null}
      }
    },
    {
      "data": {"name": "ct"},
      "transform": [{"filter": "datum.side == 'L'"}],
      "mark": {"type": "text", "align": "left", "baseline": "alphabetic", "fontSize": 15},
      "encoding": {
        "x": {"field": "x", "type": "quantitative"},
        "y": {"field": "y", "type": "quantitative"},
        "text": {"field": "t"},
        "color": {"field": "g", "type": "nominal", "legend": null}
      }
    },
    {
      "data": {"name": "ct"},
      "transform": [{"filter": "datum.side == 'R'"}],
      "mark": {"type": "text", "align": "right", "baseline": "alphabetic", "fontSize": 15},
      "encoding": {
        "x": {"field": "x", "type": "quantitative"},
        "y": {"field": "y", "type": "quantitative"},
        "text": {"field": "t"},
        "color": {"field": "g", "type": "nominal", "legend": null}
      }
    }
  ]
}
]
}
